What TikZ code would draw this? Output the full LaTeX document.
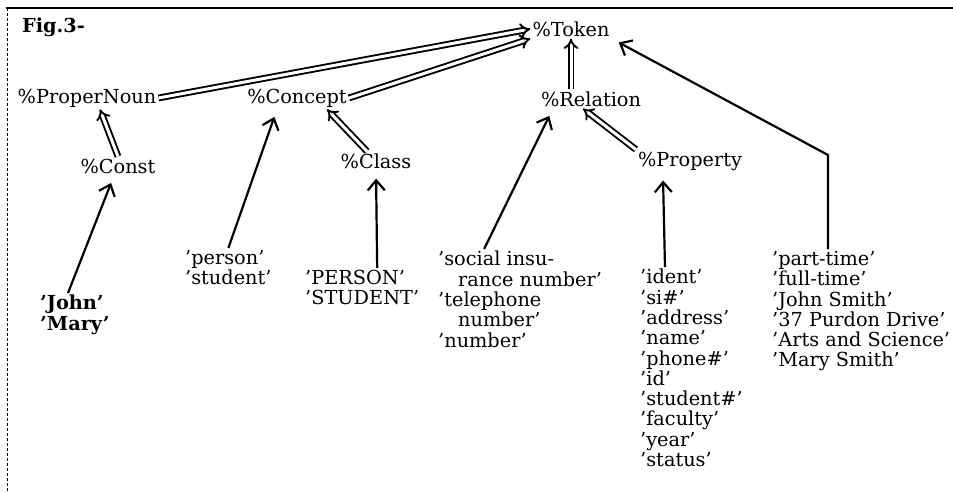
\documentclass[tikz,border=0pt]{standalone}
\usepackage{fontspec}
\setmainfont{DejaVu Serif}
\usetikzlibrary{arrows.meta}

\newcommand{\figsize}{\fontsize{19.3}{20.3}\selectfont}

\begin{document}
\begin{tikzpicture}[x=1pt,y=-1pt,
  every node/.style={font=\figsize, inner sep=2pt},
  item/.style={align=left, anchor=north west},
  isa/.style={line width=1.9pt, double, double distance=3pt, -{Implies[scale=1.7]}},
  inst/.style={line width=2.2pt, shorten >=8pt, -{Straight Barb[length=10pt,width=17pt]}}]
   \useasboundingbox (0,0) rectangle (953,492);
   \draw[line width=2pt] (6,8) -- (953,8);
   \draw[line width=1pt, densely dashed] (7,8) -- (7,492);
   \node[anchor=west, font=\figsize\bfseries] (fig) at (20,27) {Fig.3-};
   % classes
   \node (token)    at (571,29)  {\%Token};
   \node (proper)   at (87,98)   {\%ProperNoun};
   \node (concept)  at (297,98)  {\%Concept};
   \node (relation) at (591,99)  {\%Relation};
   \node (const)    at (118,166) {\%Const};
   \node (class)    at (376,161) {\%Class};
   \node (property) at (690,161) {\%Property};
   % instances
   \node[item, font=\figsize\bfseries] (johnlist) at (38,293) {'John'\\'Mary'};
   \node[item] (personlist) at (183,248) {'person'\\'student'};
   \node[item] (PERSONlist) at (303,268) {'PERSON'\\'STUDENT'};
   \node[item] (sociallist) at (436,249) {'social insu-\\\hspace*{20pt}rance number'\\'telephone\\\hspace*{20pt}number'\\'number'};
   \node[item] (proplist) at (638,267) {'ident'\\'si\#'\\'address'\\'name'\\'phone\#'\\'id'\\'student\#'\\'faculty'\\'year'\\'status'};
   \node[item] (ptlist) at (770,249) {'part-time'\\'full-time'\\'John Smith'\\'37 Purdon Drive'\\'Arts and Science'\\'Mary Smith'};
   \coordinate (kink) at (828,155);
   % subclass links
   \draw[isa] (proper.east) -- (token.west);
   \draw[isa] (concept.east) -- (token.south west);
   \draw[isa] (relation.north -| token.south) -- (token.south);
   \draw[isa] (const.north) -- ([xshift=13pt]proper.south);
   \draw[isa] ([xshift=-9pt]class.north) -- ([xshift=30pt]concept.south);
   \draw[isa] (property.north west) -- ([xshift=-8pt]relation.south);
   % instance links
   \draw[inst] ([xshift=30pt]johnlist.north west) -- ([xshift=-4pt]const.south);
   \draw[inst] (personlist.north) -- ([xshift=-20pt]concept.south);
   \draw[inst] ([xshift=15pt]PERSONlist.north) -- (class.south);
   \draw[inst] ([xshift=-36pt]sociallist.north) -- ([xshift=14pt]relation.south west);
   \draw[inst] ([xshift=27pt]proplist.north west) -- ([xshift=27pt]property.south west);
   \draw[inst] (kink |- ptlist.north) -- (kink) -- (token.south east);
\end{tikzpicture}
\end{document}
